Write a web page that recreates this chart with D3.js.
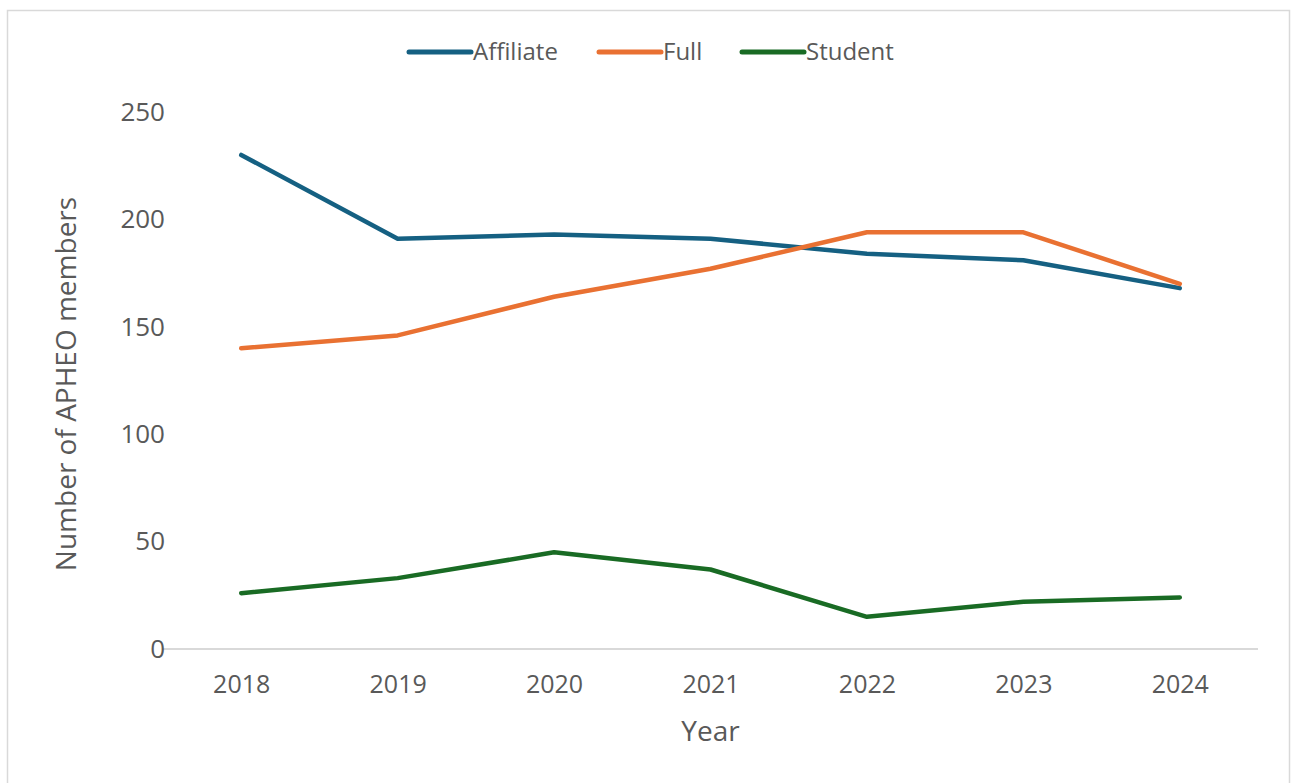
<!DOCTYPE html>
<html>
<head>
<meta charset="utf-8">
<script src="https://cdn.jsdelivr.net/npm/d3@7"></script>
<style>
  body { margin: 0; background: #fff; }
  text { font-family: "Open Sans", sans-serif; fill: #595959; }
</style>
</head>
<body>
<svg id="chart" width="1291" height="783"></svg>
<script>
var years = ['2018', '2019', '2020', '2021', '2022', '2023', '2024']
var affiliate = [230, 191, 193, 191, 184, 181, 168]
var full = [140, 146, 164, 177, 194, 194, 170]
var student = [26, 33, 45, 37, 15, 22, 24]
var yTicks = [0, 50, 100, 150, 200, 250]

var series = [
  { name: 'Affiliate', values: affiliate, color: '#156082' },
  { name: 'Full', values: full, color: '#E97132' },
  { name: 'Student', values: student, color: '#196B24' }
]

var svg = d3.select('#chart')

// outer frame
svg.append('rect')
  .attr('x', 7.5).attr('y', 10.5)
  .attr('width', 1282).attr('height', 800)
  .attr('fill', 'none').attr('stroke', '#d9d9d9').attr('stroke-width', 1.5)

var plotLeft = 163, plotRight = 1258, plotTop = 112, plotBottom = 649

var x = d3.scalePoint().domain(years).range([plotLeft, plotRight]).padding(0.5)
var y = d3.scaleLinear().domain([0, 250]).range([plotBottom, plotTop])

// x axis
var xAxis = svg.append('g')
  .attr('transform', 'translate(0,' + plotBottom + ')')
  .call(d3.axisBottom(x).tickSize(0).tickPadding(26))
xAxis.select('.domain').attr('stroke', '#d9d9d9').attr('stroke-width', 2)
  .attr('d', 'M' + plotLeft + ',0H' + plotRight)
xAxis.selectAll('text').attr('font-size', 25).attr('fill', '#595959')

// y axis
var yAxis = svg.append('g')
  .attr('transform', 'translate(' + (plotLeft + 2) + ',0)')
  .call(d3.axisLeft(y).tickValues(yTicks).tickSize(0).tickPadding(0))
yAxis.select('.domain').remove()
yAxis.selectAll('text').attr('font-size', 26).attr('fill', '#595959')

// axis titles
svg.append('text')
  .attr('x', (plotLeft + plotRight) / 2).attr('y', 741)
  .attr('text-anchor', 'middle').attr('font-size', 28)
  .text('Year')

svg.append('text')
  .attr('transform', 'translate(76,384) rotate(-90)')
  .attr('text-anchor', 'middle').attr('font-size', 28)
  .text('Number of APHEO members')

// lines
var line = d3.line()
  .x(function (d, i) { return x(years[i]) })
  .y(function (d) { return y(d) })

svg.selectAll('path.series')
  .data(series)
  .join('path')
  .attr('class', 'series')
  .attr('fill', 'none')
  .attr('stroke', function (d) { return d.color })
  .attr('stroke-width', 4.5)
  .attr('stroke-linejoin', 'round')
  .attr('stroke-linecap', 'round')
  .attr('d', function (d) { return line(d.values) })

// legend
var legendX = [409, 599, 742]
var legend = svg.selectAll('g.legend')
  .data(series)
  .join('g')
  .attr('class', 'legend')
  .attr('transform', function (d, i) { return 'translate(' + legendX[i] + ',52)' })
legend.append('line')
  .attr('x1', 0).attr('x2', 62)
  .attr('stroke', function (d) { return d.color })
  .attr('stroke-width', 5).attr('stroke-linecap', 'round')
legend.append('text')
  .attr('x', 64).attr('dy', '0.35em')
  .attr('font-size', 24)
  .text(function (d) { return d.name })
</script>
</body>
</html>
